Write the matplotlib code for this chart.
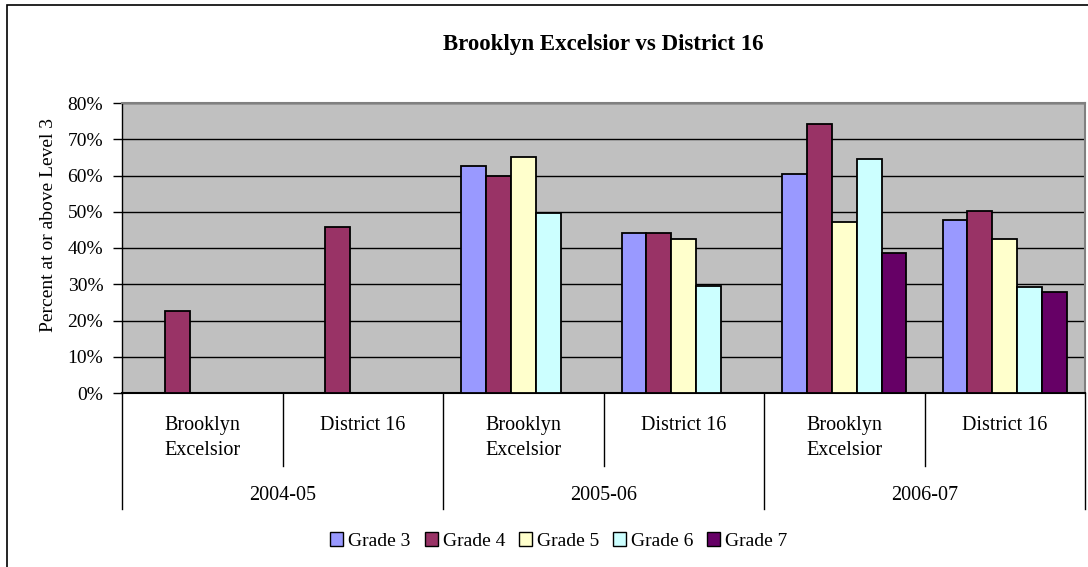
import numpy as np
import matplotlib.pyplot as plt
from matplotlib.patches import Rectangle

plt.rcParams['font.family'] = ['Liberation Serif', 'DejaVu Serif']

# data (percent at or above level 3); nan = no bar
years = ['2004-05', '2005-06', '2006-07']
schools = ['Brooklyn\nExcelsior', 'District 16']
grades = ['Grade 3', 'Grade 4', 'Grade 5', 'Grade 6', 'Grade 7']
grade3 = [np.nan, np.nan, 62.6, 44.1, 60.3, 47.8]
grade4 = [22.7, 45.8, 60.0, 44.1, 74.3, 50.1]
grade5 = [np.nan, np.nan, 65.0, 42.6, 47.2, 42.6]
grade6 = [np.nan, np.nan, 49.6, 29.5, 64.6, 29.2]
grade7 = [np.nan, np.nan, np.nan, np.nan, 38.5, 27.8]
colors = ['#9999FF', '#993366', '#FFFFCC', '#CCFFFF', '#660066']

series = [grade3, grade4, grade5, grade6, grade7]

W, H = 1088, 567
fig = plt.figure(figsize=(W / 100, H / 100), dpi=100)
ax = fig.add_axes([122 / W, 1 - 393 / H, 963 / W, 290 / H])
ax.set_facecolor('#C0C0C0')

x = np.arange(6)
w = 0.155
for i, (vals, c, g) in enumerate(zip(series, colors, grades)):
    ax.bar(x + (i - 2) * w, vals, width=w, color=c, edgecolor='black',
           linewidth=1.3, label=g, zorder=3)

ax.set_xlim(-0.5, 5.5)
ax.set_ylim(0, 80)
ax.set_yticks(np.arange(0, 81, 10))
ax.set_yticklabels([f'{v}%' for v in range(0, 81, 10)], fontsize=14)
ax.yaxis.grid(True, color='black', linewidth=1)
ax.set_axisbelow(True)
ax.tick_params(axis='y', direction='out', length=6.5, width=1, pad=7)
ax.set_xticks([])
for s in ['top', 'right']:
    ax.spines[s].set_color('#808080')
    ax.spines[s].set_linewidth(1.5)
ax.spines['left'].set_linewidth(1)
ax.spines['bottom'].set_linewidth(1.5)

fig.text(49 / W, 1 - 225 / H, 'Percent at or above Level 3', rotation=90,
         ha='center', va='center', fontsize=14)

# multi-level category axis
tr = ax.get_xaxis_transform()
for sx in [0.5, 2.5, 4.5]:
    ax.plot([sx, sx], [0, -73 / 290], transform=tr, color='black', lw=1, clip_on=False)
for sx in [-0.5, 1.5, 3.5, 5.5]:
    ax.plot([sx, sx], [0, -116 / 290], transform=tr, color='black', lw=1, clip_on=False)
for i in range(6):
    ax.text(i, -23 / 290, schools[i % 2], transform=tr, ha='center', va='top',
            fontsize=14.5, linespacing=1.45)
for j, y in enumerate(years):
    ax.text(2 * j + 0.5, -103 / 290, y, transform=tr, ha='center', va='center', fontsize=14.5)

ax.set_title('Brooklyn Excelsior vs District 16', fontsize=16.5, fontweight='bold', pad=38)

leg = fig.legend(loc='center', bbox_to_anchor=(559 / W, 1 - 541 / H), ncol=5,
                 frameon=False, fontsize=14, handlelength=0.67, handleheight=0.67,
                 handletextpad=0.25, columnspacing=0.72, borderpad=0)
for h in leg.legend_handles:
    h.set_linewidth(1)

# chart border
fig.patches.append(Rectangle((7 / W, -0.1), 1.2, 1 - 5 / H + 0.1, transform=fig.transFigure,
                             fill=False, edgecolor='black', linewidth=1.2))

plt.savefig('out.png', dpi=100)
